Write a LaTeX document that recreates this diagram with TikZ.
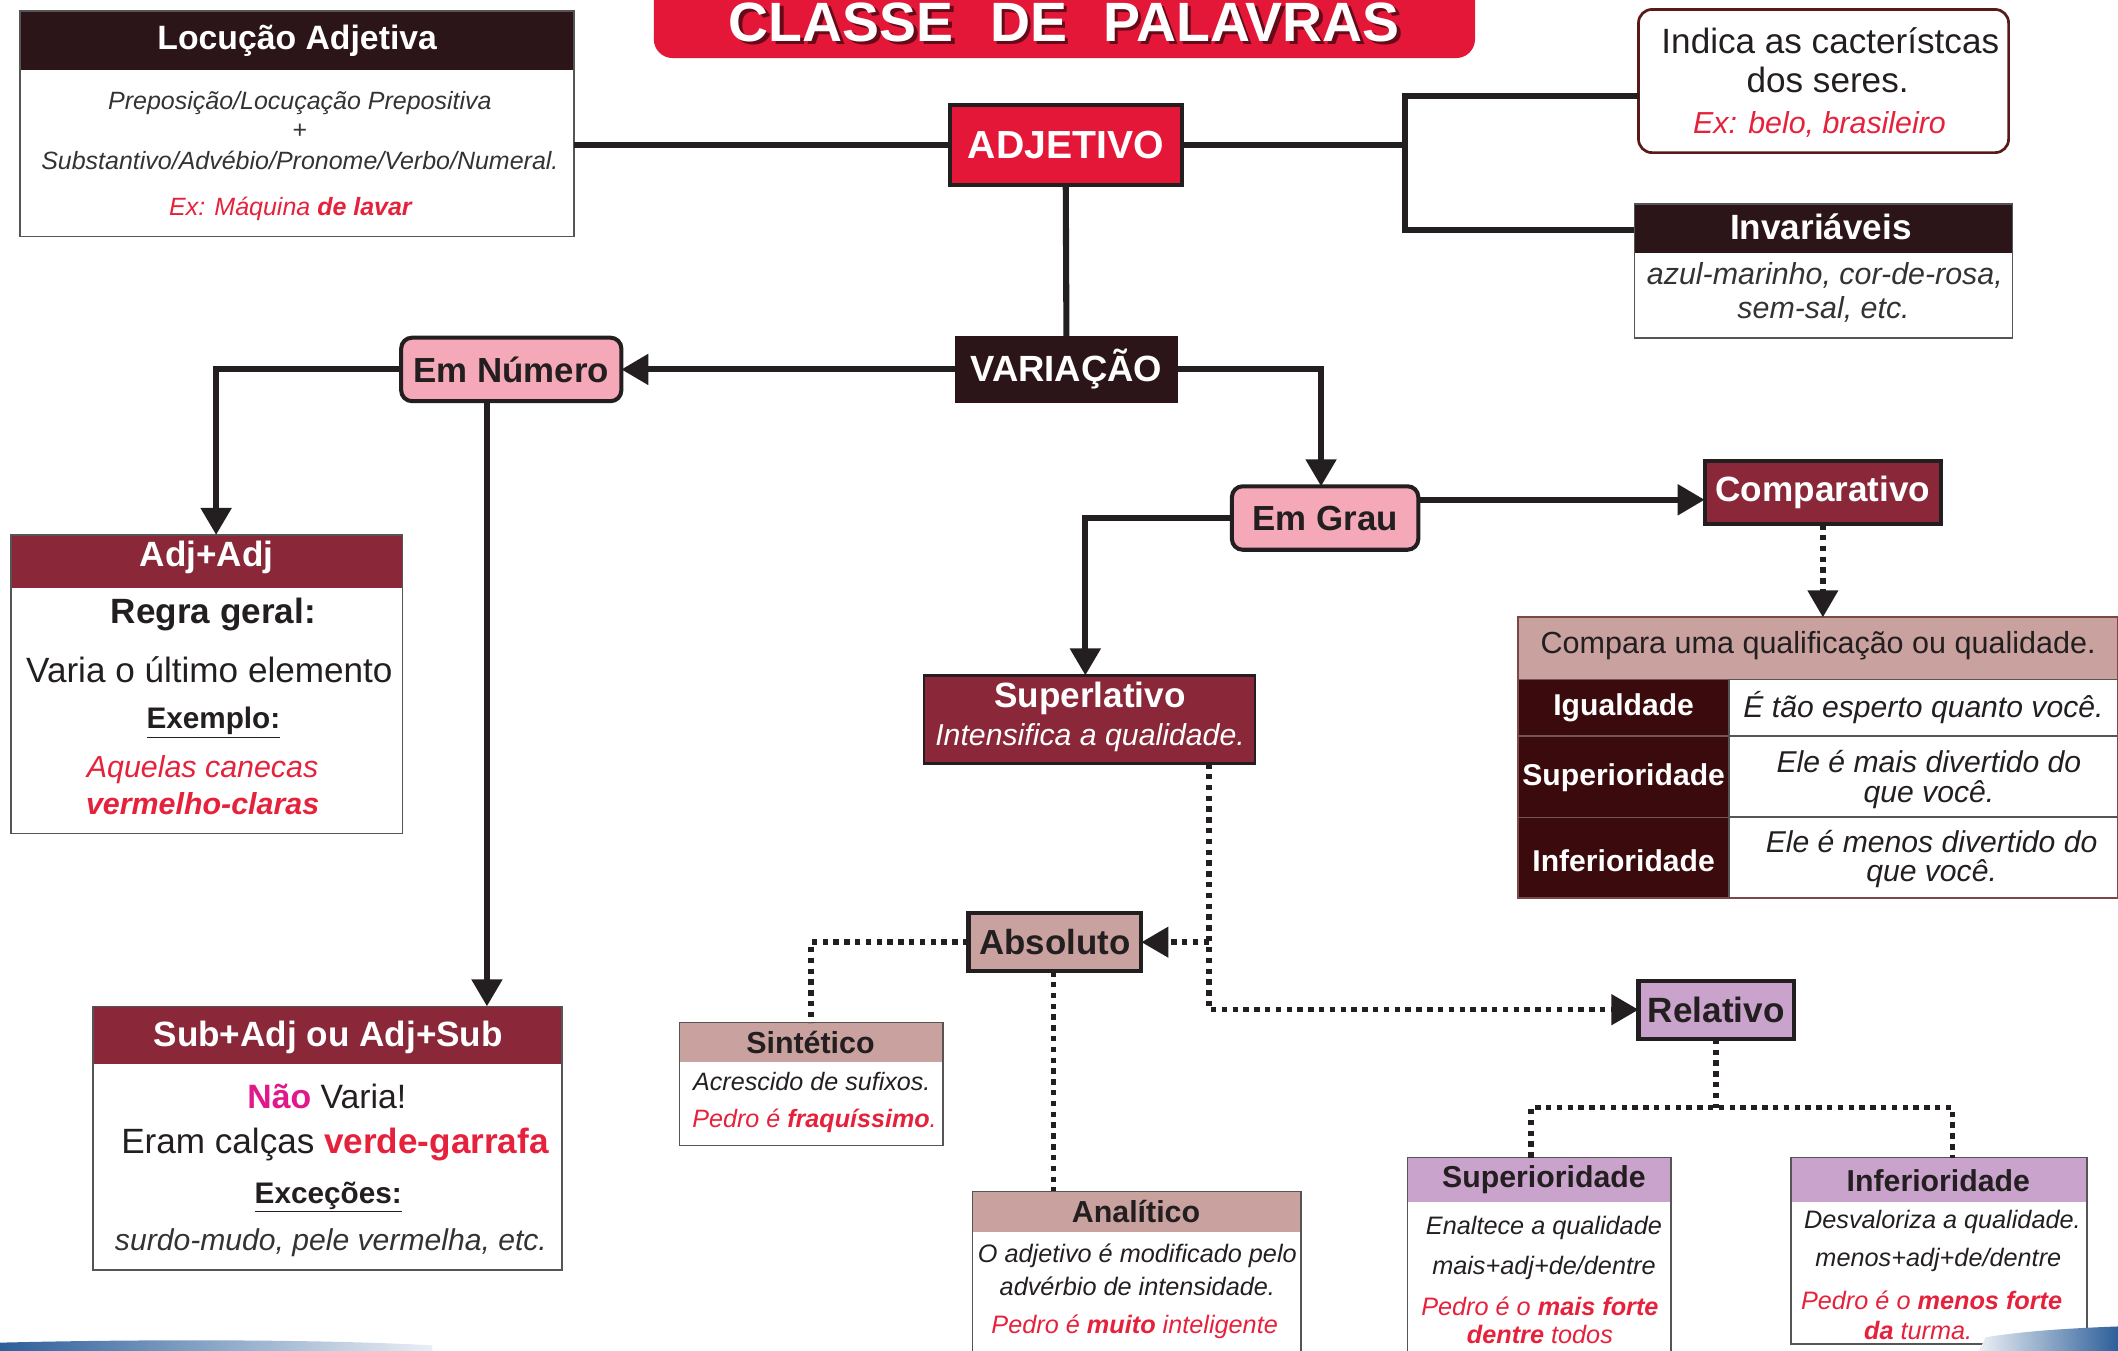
\documentclass[tikz,border=0pt]{standalone}
\usepackage{fontspec}
\setmainfont{Liberation Sans}
\usetikzlibrary{arrows.meta,calc}
\definecolor{crimson}{HTML}{E41738}
\definecolor{darkh}{HTML}{2B1519}
\definecolor{maroon}{HTML}{8A2839}
\definecolor{pinkb}{HTML}{F5A9B8}
\definecolor{rose}{HTML}{C9A19E}
\definecolor{lilac}{HTML}{C9A3CB}
\definecolor{tabdark}{HTML}{3A0A0C}
\definecolor{redtx}{HTML}{E5213B}
\definecolor{magtx}{HTML}{E0188A}
\definecolor{graytx}{HTML}{333333}
\definecolor{txtc}{HTML}{231F20}
\definecolor{linec}{HTML}{231F20}
\definecolor{bordc}{HTML}{555555}
\definecolor{indc}{HTML}{5A1A1A}
\definecolor{bluedeco}{HTML}{2D5F9A}
\newcommand{\myfs}[1]{\fontsize{#1}{#1}\selectfont}
\tikzset{
  lnk/.style={line width=4.5pt, draw=linec},
  dlnk/.style={line width=4pt, draw=linec, dash pattern=on 4pt off 4pt},
  arr/.style={-{Triangle[length=20pt,width=22pt]}},
  box/.style={inner sep=0pt, outer sep=0pt, anchor=north west},
  tx/.style={inner sep=0pt, outer sep=0pt, text=txtc},
  pill/.style={fill=pinkb, draw=linec, line width=3pt, rounded corners=8pt, inner sep=0pt, outer sep=0pt, text=txtc, font=\bfseries\myfs{25.8}},
  solidbox/.style={draw=linec, line width=3pt, inner sep=0pt, outer sep=0pt},
}
\begin{document}
\begin{tikzpicture}[x=1pt,y=-1pt]
\useasboundingbox (0,0) rectangle (1568,1000);

% ---------- title ----------
\node[box, anchor=south west, fill=crimson, rounded corners=14pt, minimum width=608pt, minimum height=80pt] (title) at (484,43) {};
\node[tx, anchor=base, text=black, opacity=0.55, font=\bfseries\myfs{41}] (titsh) at (790.5,33) {CLASSE\hspace{27pt}DE\hspace{27pt}PALAVRAS};
\node[tx, anchor=base, text=white, font=\bfseries\myfs{41}] (tit) at (788,30.8) {CLASSE\hspace{27pt}DE\hspace{27pt}PALAVRAS};

% ---------- Locução Adjetiva ----------
\node[box, fill=darkh, minimum width=410pt, minimum height=44pt] (loch) at (15,8) {};
\node[box, draw=bordc, line width=1.2pt, minimum width=410pt, minimum height=167pt] (loc) at (15,8) {};
\node[tx, text=white, font=\bfseries\myfs{25}] (loct) at (220,30) {Locução Adjetiva};
\node[tx, text=graytx, font=\itshape\myfs{18.5}] (loc1) at (222,76) {Preposição/Locuçação Prepositiva};
\node[tx, text=graytx, font=\myfs{18.5}] (loc2) at (222,97) {+};
\node[tx, text=graytx, font=\itshape\myfs{18.5}] (loc3) at (222,119) {Substantivo/Advébio/Pronome/Verbo/Numeral.};
\node[tx, text=redtx, font=\itshape\myfs{18.5}] (loc4) at (215,155) {Ex: Máquina \textbf{de lavar}};

% ---------- ADJETIVO ----------
\node[solidbox, fill=crimson, minimum width=172pt, minimum height=59pt, text=white, font=\bfseries\myfs{29}] (adj) at (789,107.5) {ADJETIVO};

% ---------- Indica ----------
\node[box, draw=indc, line width=2pt, rounded corners=10pt, minimum width=274pt, minimum height=106pt] (ind) at (1213,7) {};
\node[tx, font=\myfs{26}] (ind1) at (1355,30) {Indica as cacterístcas};
\node[tx, font=\myfs{26}] (ind2) at (1353,59) {dos seres.};
\node[tx, text=redtx, font=\itshape\myfs{22.5}] (ind3) at (1347,92) {Ex: belo, brasileiro};

% ---------- Invariáveis ----------
\node[box, fill=darkh, minimum width=280pt, minimum height=36pt] (invh) at (1210,151) {};
\node[box, draw=bordc, line width=1.2pt, minimum width=280pt, minimum height=99pt] (inv) at (1210,151) {};
\node[tx, text=white, font=\bfseries\myfs{26}] (invt) at (1348,168) {Invariáveis};
\node[tx, text=graytx, font=\itshape\myfs{22.5}] (inv1) at (1351,204) {azul-marinho, cor-de-rosa,};
\node[tx, text=graytx, font=\itshape\myfs{22.5}] (inv2) at (1350,229) {sem-sal, etc.};

% ---------- VARIAÇÃO ----------
\node[fill=darkh, inner sep=0pt, outer sep=0pt, minimum width=165pt, minimum height=49pt, text=white, font=\bfseries\myfs{27}] (var) at (789.5,273.5) {VARIAÇÃO};

% ---------- Em Número ----------
\node[pill, minimum width=163pt, minimum height=47pt] (num) at (378.5,273.5) {Em Número};

% ---------- Adj+Adj ----------
\node[box, fill=maroon, minimum width=290pt, minimum height=39pt] (aah) at (8,396) {};
\node[box, draw=bordc, line width=1.2pt, minimum width=290pt, minimum height=221pt] (aa) at (8,396) {};
\node[tx, text=white, font=\bfseries\myfs{26}] (aat) at (153,413) {Adj+Adj};
\node[tx, font=\bfseries\myfs{26}] (aa1) at (158,455) {Regra geral:};
\node[tx, font=\myfs{26}] (aa2) at (155,496) {Varia o último elemento};
\node[tx, font=\bfseries\myfs{22}] (aa3) at (158,535) {\underline{Exemplo:}};
\node[tx, text=redtx, font=\itshape\myfs{22.5}] (aa4) at (150,570) {Aquelas canecas};
\node[tx, text=redtx, font=\bfseries\itshape\myfs{22.5}] (aa5) at (150,595) {vermelho-claras};

% ---------- Sub+Adj ----------
\node[box, fill=maroon, minimum width=347pt, minimum height=43pt] (sah) at (69,745) {};
\node[box, draw=bordc, line width=1.2pt, minimum width=347pt, minimum height=195pt] (sa) at (69,745) {};
\node[tx, text=white, font=\bfseries\myfs{26}] (sat) at (243,768) {Sub+Adj ou Adj+Sub};
\node[tx, font=\myfs{25}] (sa1) at (242,812) {\textcolor{magtx}{\bfseries Não} Varia!};
\node[tx, font=\myfs{26}] (sa2) at (248,847) {Eram calças \textcolor{redtx}{\bfseries verde-garrafa}};
\node[tx, font=\bfseries\myfs{22}] (sa3) at (243,886) {\underline{Exceções:}};
\node[tx, text=graytx, font=\itshape\myfs{22.3}] (sa4) at (245,920) {surdo-mudo, pele vermelha, etc.};

% ---------- Em Grau ----------
\node[pill, minimum width=138pt, minimum height=47pt] (grau) at (981,383.5) {Em Grau};

% ---------- Comparativo ----------
\node[solidbox, fill=maroon, minimum width=175pt, minimum height=47pt, text=white, font=\bfseries\myfs{26}] (comp) at (1349.5,364.5) {Comparativo};

% ---------- Superlativo ----------
\node[solidbox, line width=2pt, fill=maroon, minimum width=245pt, minimum height=65pt] (superl) at (806.5,532.5) {};
\node[tx, text=white, font=\bfseries\myfs{26}] (sup1) at (807,517) {Superlativo};
\node[tx, text=white, font=\itshape\myfs{22.4}] (sup2) at (807,546) {Intensifica a qualidade.};

% ---------- comparison table ----------
\node[box, fill=rose, minimum width=444pt, minimum height=46pt] (tabh) at (1124,457) {};
\node[box, fill=tabdark, draw=tabdark!70!white, line width=1pt, minimum width=156pt, minimum height=42pt] (c1l) at (1124,503) {};
\node[box, fill=tabdark, draw=tabdark!70!white, line width=1pt, minimum width=156pt, minimum height=60pt] (c2l) at (1124,545) {};
\node[box, fill=tabdark, draw=tabdark!70!white, line width=1pt, minimum width=156pt, minimum height=60pt] (c3l) at (1124,605) {};
\node[box, draw=bordc, line width=1.2pt, minimum width=288pt, minimum height=42pt] (c1r) at (1280,503) {};
\node[box, draw=bordc, line width=1.2pt, minimum width=288pt, minimum height=60pt] (c2r) at (1280,545) {};
\node[box, draw=bordc, line width=1.2pt, minimum width=288pt, minimum height=60pt] (c3r) at (1280,605) {};
\node[box, draw=indc!80!white, line width=1.5pt, minimum width=444pt, minimum height=208pt] (tab) at (1124,457) {};
\node[tx, font=\myfs{22.6}] (tabt) at (1346,478) {Compara uma qualificação ou qualidade.};
\node[tx, text=white, font=\bfseries\myfs{22.3}] (c1lt) at (1202,524) {Igualdade};
\node[tx, text=white, font=\bfseries\myfs{22.3}] (c2lt) at (1202,576) {Superioridade};
\node[tx, text=white, font=\bfseries\myfs{22.3}] (c3lt) at (1202,637) {Inferioridade};
\node[tx, font=\itshape\myfs{22.3}] (c1rt) at (1424,524) {É tão esperto quanto você.};
\node[tx, font=\itshape\myfs{22.3}] (c2rt) at (1428,564) {Ele é mais divertido do};
\node[tx, font=\itshape\myfs{22.3}] (c2rt2) at (1428,588) {que você.};
\node[tx, font=\itshape\myfs{22.3}] (c3rt) at (1430,623) {Ele é menos divertido do};
\node[tx, font=\itshape\myfs{22.3}] (c3rt2) at (1430,647) {que você.};

% ---------- Absoluto ----------
\node[solidbox, fill=rose, minimum width=128pt, minimum height=43pt, text=txtc, font=\bfseries\myfs{25.8}] (abs) at (781,697.5) {Absoluto};

% ---------- Sintético ----------
\node[box, fill=rose, minimum width=195pt, minimum height=29pt] (sinh) at (503,757) {};
\node[box, draw=bordc, line width=1.2pt, minimum width=195pt, minimum height=91pt] (sin) at (503,757) {};
\node[tx, font=\bfseries\myfs{22.5}] (sint) at (600,772) {Sintético};
\node[tx, font=\itshape\myfs{18.6}] (sin1) at (601,801) {Acrescido de sufixos.};
\node[tx, text=redtx, font=\itshape\myfs{18.6}] (sin2) at (603,830) {Pedro é \textbf{fraquíssimo}.};

% ---------- Analítico ----------
\node[box, fill=rose, minimum width=243pt, minimum height=30pt] (anah) at (720,882) {};
\node[box, draw=bordc, line width=1.2pt, minimum width=243pt, minimum height=128pt] (ana) at (720,882) {};
\node[tx, font=\bfseries\myfs{22.5}] (anat) at (841,897) {Analítico};
\node[tx, font=\itshape\myfs{18.7}] (ana1) at (842,930) {O adjetivo é modificado pelo};
\node[tx, font=\itshape\myfs{18.7}] (ana2) at (842,952) {advérbio de intensidade.};
\node[tx, text=redtx, font=\itshape\myfs{18.7}] (ana3) at (840,982) {Pedro é \textbf{muito} inteligente};

% ---------- Relativo ----------
\node[solidbox, fill=lilac, minimum width=115pt, minimum height=43pt, text=txtc, font=\bfseries\myfs{26}] (rel) at (1270.5,747.5) {Relativo};

% ---------- Superioridade (relativo) ----------
\node[box, fill=lilac, minimum width=195pt, minimum height=33pt] (rsuph) at (1042,857) {};
\node[box, draw=bordc, line width=1.2pt, minimum width=195pt, minimum height=153pt] (rsup) at (1042,857) {};
\node[tx, font=\bfseries\myfs{22.4}] (rsupt) at (1143,873) {Superioridade};
\node[tx, font=\itshape\myfs{18.7}] (rsup1) at (1143,909) {Enaltece a qualidade};
\node[tx, font=\itshape\myfs{18.7}] (rsup2) at (1143,939) {mais+adj+de/dentre};
\node[tx, text=redtx, font=\itshape\myfs{18.7}] (rsup3) at (1140,967) {Pedro é o \textbf{mais forte}};
\node[tx, text=redtx, font=\itshape\myfs{18.7}] (rsup4) at (1140,988) {\textbf{dentre} todos};

% ---------- Inferioridade (relativo) ----------
\node[box, fill=lilac, minimum width=219pt, minimum height=33pt] (rinfh) at (1326,857) {};
\node[box, draw=bordc, line width=1.2pt, minimum width=219pt, minimum height=138pt] (rinf) at (1326,857) {};
\node[tx, font=\bfseries\myfs{22.4}] (rinft) at (1435,874) {Inferioridade};
\node[tx, font=\itshape\myfs{18.7}] (rinf1) at (1438,905) {Desvaloriza a qualidade.};
\node[tx, font=\itshape\myfs{18.7}] (rinf2) at (1435,933) {menos+adj+de/dentre};
\node[tx, text=redtx, font=\itshape\myfs{18.7}] (rinf3) at (1430,963) {Pedro é o \textbf{menos forte}};
\node[tx, text=redtx, font=\itshape\myfs{18.7}] (rinf4) at (1420,985) {\textbf{da} turma.};

% ---------- connectors ----------
\coordinate (j1) at (1040,107.5);
\coordinate (ja) at (1040,71);
\coordinate (jb) at (1040,170);
\draw[lnk] (adj.west) -- (adj.west -| loc.east);
\draw[lnk] (adj.east) -- (j1);
\draw[lnk, line join=miter] (ja -| ind.west) -- (ja) -- (jb) -- (jb -| inv.west);
\draw[lnk] (adj.south) -- (var.north);
\draw[lnk, arr] (var.west) -- (num.east);
\draw[lnk, arr] (num.west) -| ([xshift=7pt]aa.north);
\draw[lnk, arr] ([xshift=-18pt]num.south) -- ([xshift=-18pt]num.south |- sa.north);
\draw[lnk, arr] (var.east) -| ([xshift=-3pt]grau.north);
\draw[lnk, arr] ([yshift=13.5pt]grau.east) -- ([yshift=13.5pt]grau.east -| comp.west);
\draw[lnk, arr] (grau.west) -| ([xshift=-3pt]superl.north);
\draw[dlnk, arr] (comp.south) -- (comp.south |- tabh.north);
\coordinate (s1) at ([xshift=88.5pt]superl.south);
\draw[dlnk, arr] (s1) -- (s1 |- rel.west) -- (rel.west);
\draw[dlnk, arr] (s1 |- abs.east) -- (abs.east);
\draw[dlnk] (abs.west) -| (sin.north);
\draw[dlnk] ([xshift=-1pt]abs.south) -- ([xshift=-1pt]abs.south |- ana.north);
\coordinate (rj) at (1271,820);
\draw[dlnk] (rel.south) -- (rel.south |- rj);
\draw[dlnk] ([xshift=-6pt]rsup.north) |- (rj) -| ([xshift=10pt]rinf.north);

% ---------- bottom decorations ----------
\shade[left color=bluedeco, right color=bluedeco!10!white] (0,1000) -- (0,994) .. controls (120,991) and (250,992) .. (320,996) -- (320,1000) -- cycle;
\shade[left color=bluedeco!10!white, right color=bluedeco] (1465,1000) -- (1470,990) .. controls (1500,985) and (1540,983) .. (1568,982) -- (1568,1000) -- cycle;
\end{tikzpicture}
\end{document}
